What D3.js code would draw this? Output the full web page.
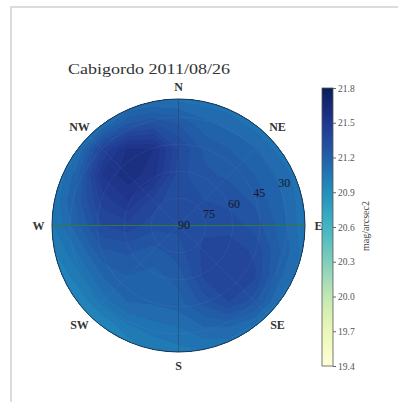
<!DOCTYPE html>
<html>
<head>
<meta charset="utf-8">
<script src="https://cdn.jsdelivr.net/npm/d3@7"></script>
<style>
  body { margin: 0; background: #fff; }
  svg { display: block; }
  text { font-family: "Liberation Serif", "DejaVu Serif", serif; }
</style>
</head>
<body>
<svg id="chart" width="398" height="402"></svg>
<script>
// sky brightness (mag/arcsec2), on a square grid
// columns: x = -1.2 .. 1.2 (W -> E), rows: y = 1.2 .. -1.2 (N -> S), unit = horizon ring (alt 20)
const gridX = [-1.2, -1.0, -0.8, -0.6, -0.4, -0.2, 0, 0.2, 0.4, 0.6, 0.8, 1.0, 1.2];
const gridY = [1.2, 1.0, 0.8, 0.6, 0.4, 0.2, 0, -0.2, -0.4, -0.6, -0.8, -1.0, -1.2];
const brightness = [
  [21.02, 21.02, 21.02, 21.02, 21.02, 21.02, 21.02, 21.02, 21.02, 21.02, 21.02, 21.02, 21.02],
  [21.02, 21.02, 21.02, 21.03, 21.06, 21.08, 21.08, 21.07, 21.06, 21.05, 21.03, 21.02, 21.02],
  [21.02, 21.02, 21.03, 21.10, 21.25, 21.30, 21.25, 21.17, 21.13, 21.08, 21.04, 21.02, 21.02],
  [21.02, 21.02, 21.08, 21.40, 21.56, 21.55, 21.35, 21.24, 21.20, 21.16, 21.08, 21.03, 21.02],
  [21.02, 21.02, 21.18, 21.50, 21.58, 21.52, 21.32, 21.26, 21.24, 21.20, 21.14, 21.05, 21.02],
  [21.02, 21.04, 21.22, 21.42, 21.50, 21.38, 21.30, 21.30, 21.28, 21.24, 21.16, 21.06, 21.02],
  [21.00, 21.04, 21.18, 21.35, 21.38, 21.32, 21.31, 21.34, 21.33, 21.28, 21.18, 21.06, 21.02],
  [20.96, 20.99, 21.10, 21.24, 21.26, 21.23, 21.28, 21.36, 21.38, 21.34, 21.20, 21.07, 21.02],
  [20.90, 20.93, 21.03, 21.15, 21.20, 21.18, 21.22, 21.36, 21.40, 21.36, 21.16, 21.05, 21.02],
  [20.88, 20.90, 20.95, 21.07, 21.15, 21.16, 21.18, 21.27, 21.35, 21.27, 21.08, 21.02, 21.02],
  [20.88, 20.88, 20.90, 20.94, 21.04, 21.08, 21.10, 21.15, 21.15, 21.08, 21.02, 21.02, 21.02],
  [20.88, 20.88, 20.88, 20.90, 20.95, 21.00, 21.03, 21.04, 21.04, 21.02, 21.02, 21.02, 21.02],
  [20.88, 20.88, 20.88, 20.90, 20.92, 20.95, 21.00, 21.02, 21.02, 21.02, 21.02, 21.02, 21.02]
];

const title = "Cabigordo 2011/08/26";
const compass = [
  { label: "N", az: 0 }, { label: "NE", az: 45 }, { label: "E", az: 90 }, { label: "SE", az: 135 },
  { label: "S", az: 180 }, { label: "SW", az: 225 }, { label: "W", az: 270 }, { label: "NW", az: 315 }
];
const altLabels = [90, 75, 60, 45, 30];
const altMin = 20;
const colorTicks = [19.4, 19.7, 20.0, 20.3, 20.6, 20.9, 21.2, 21.5, 21.8];
const unitLabel = "mag/arcsec2";

const svg = d3.select("#chart");
const cx = 178.5, cy = 225.5, R = 126.5;

// frame around the figure
svg.append("path")
  .attr("d", "M11,402V7H398")
  .attr("fill", "none")
  .attr("stroke", "#dcdcdc")
  .attr("stroke-width", 2);

const x = d3.scaleLinear().domain([-1, 1]).range([cx - R, cx + R]);
const y = d3.scaleLinear().domain([-1, 1]).range([cy + R, cy - R]);
const rAlt = d3.scaleLinear().domain([90, altMin]).range([0, R]);
const color = d3.scaleSequential(d3.interpolateYlGnBu).domain([19.4, 21.8]);

// contour grid index -> map units
const n = gridX.length, m = gridY.length;
const ix = d3.scaleLinear().domain([0.5, n - 0.5]).range([gridX[0], gridX[n - 1]]);
const iy = d3.scaleLinear().domain([0.5, m - 0.5]).range([gridY[0], gridY[m - 1]]);
const values = brightness.flat();

const step = 0.05;
const thresholds = d3.range(19.4, 21.8, step);
const contours = d3.contours().size([n, m]).thresholds(thresholds)(values);

const proj = d3.geoTransform({
  point: function(px, py) { this.stream.point(x(ix(px)), y(iy(py))); }
});
const path = d3.geoPath(proj);

svg.append("clipPath").attr("id", "dome")
  .append("circle").attr("cx", cx).attr("cy", cy).attr("r", R);

const map = svg.append("g").attr("clip-path", "url(#dome)");
map.append("circle").attr("cx", cx).attr("cy", cy).attr("r", R)
  .attr("fill", color(20.9));

map.selectAll("path.band")
  .data(contours.filter(c => c.coordinates.length))
  .join("path")
  .attr("class", "band")
  .attr("d", path)
  .attr("fill", d => color(d.value + step / 2))
  .attr("stroke", d => color(d.value + step / 2))
  .attr("stroke-width", 0.3);

// polar grid
const grid = svg.append("g").attr("clip-path", "url(#dome)");
grid.selectAll("circle.ring")
  .data([75, 60, 45, 30])
  .join("circle")
  .attr("class", "ring")
  .attr("cx", cx).attr("cy", cy)
  .attr("r", d => rAlt(d))
  .attr("fill", "none")
  .attr("stroke", "#8a98c0")
  .attr("stroke-opacity", 0.15)
  .attr("stroke-width", 0.8);

grid.selectAll("line.spoke")
  .data([45, 135])
  .join("line")
  .attr("class", "spoke")
  .attr("x1", d => cx - R * Math.sin(d * Math.PI / 180))
  .attr("y1", d => cy + R * Math.cos(d * Math.PI / 180))
  .attr("x2", d => cx + R * Math.sin(d * Math.PI / 180))
  .attr("y2", d => cy - R * Math.cos(d * Math.PI / 180))
  .attr("stroke", "#8a98c0")
  .attr("stroke-opacity", 0.15)
  .attr("stroke-width", 0.8);

// N-S line
svg.append("line")
  .attr("x1", cx).attr("x2", cx).attr("y1", cy - R).attr("y2", cy + R)
  .attr("stroke", "#2b3f5a").attr("stroke-opacity", 0.6).attr("stroke-width", 0.8);
// W-E line
svg.append("line")
  .attr("x1", cx - R).attr("x2", cx + R).attr("y1", cy).attr("y2", cy)
  .attr("stroke", "#2f7a3c").attr("stroke-width", 1.2);

svg.append("circle").attr("cx", cx).attr("cy", cy).attr("r", R)
  .attr("fill", "none").attr("stroke", "#1f3558").attr("stroke-width", 1);

// altitude labels along azimuth 67.5
const labAz = 67.5 * Math.PI / 180;
svg.selectAll("text.alt")
  .data(altLabels)
  .join("text")
  .attr("class", "alt")
  .attr("x", d => cx + rAlt(d) * Math.sin(labAz) - 0.5)
  .attr("y", d => cy - rAlt(d) * Math.cos(labAz) + 3)
  .attr("font-size", 12)
  .attr("fill", "#15182a")
  .text(d => d);

// compass labels
const labR = R + 13.5;
svg.selectAll("text.dir")
  .data(compass)
  .join("text")
  .attr("class", "dir")
  .attr("x", d => cx + labR * Math.sin(d.az * Math.PI / 180))
  .attr("y", d => cy - labR * Math.cos(d.az * Math.PI / 180) + (d.az === 0 ? 1 : 0))
  .attr("dy", "0.35em")
  .attr("text-anchor", "middle")
  .attr("font-size", 12)
  .attr("font-weight", "bold")
  .attr("fill", "#333")
  .text(d => d.label);

svg.append("text")
  .attr("x", 68).attr("y", 74)
  .attr("font-family", "DejaVu Serif, serif")
  .attr("font-size", 14)
  .attr("fill", "#333")
  .attr("textLength", 162)
  .attr("lengthAdjust", "spacingAndGlyphs")
  .text(title);

// colorbar
const cbX = 322, cbW = 11, cbTop = 88, cbBot = 366;
const cbScale = d3.scaleLinear().domain([19.4, 21.8]).range([cbBot, cbTop]);
const grad = svg.append("defs").append("linearGradient")
  .attr("id", "cbgrad").attr("x1", 0).attr("y1", 1).attr("x2", 0).attr("y2", 0);
grad.selectAll("stop")
  .data(d3.range(0, 1.0001, 0.05))
  .join("stop")
  .attr("offset", d => d)
  .attr("stop-color", d => d3.interpolateYlGnBu(d));
svg.append("rect")
  .attr("x", cbX).attr("y", cbTop).attr("width", cbW).attr("height", cbBot - cbTop)
  .attr("fill", "url(#cbgrad)")
  .attr("stroke", "#555").attr("stroke-width", 0.8);

const cbAxis = svg.append("g")
  .attr("transform", `translate(${cbX + cbW},0)`)
  .call(d3.axisRight(cbScale).tickValues(colorTicks).tickFormat(d3.format(".1f")).tickSize(3).tickPadding(2));
cbAxis.select(".domain").remove();
cbAxis.selectAll(".tick line").attr("stroke", "#666");
cbAxis.selectAll(".tick text")
  .attr("font-family", "Liberation Serif, DejaVu Serif, serif")
  .attr("font-size", 9.5)
  .attr("fill", "#555");

svg.append("text")
  .attr("transform", `translate(369,226) rotate(-90)`)
  .attr("text-anchor", "middle")
  .attr("font-size", 10)
  .attr("fill", "#444")
  .text(unitLabel);
</script>
</body>
</html>
